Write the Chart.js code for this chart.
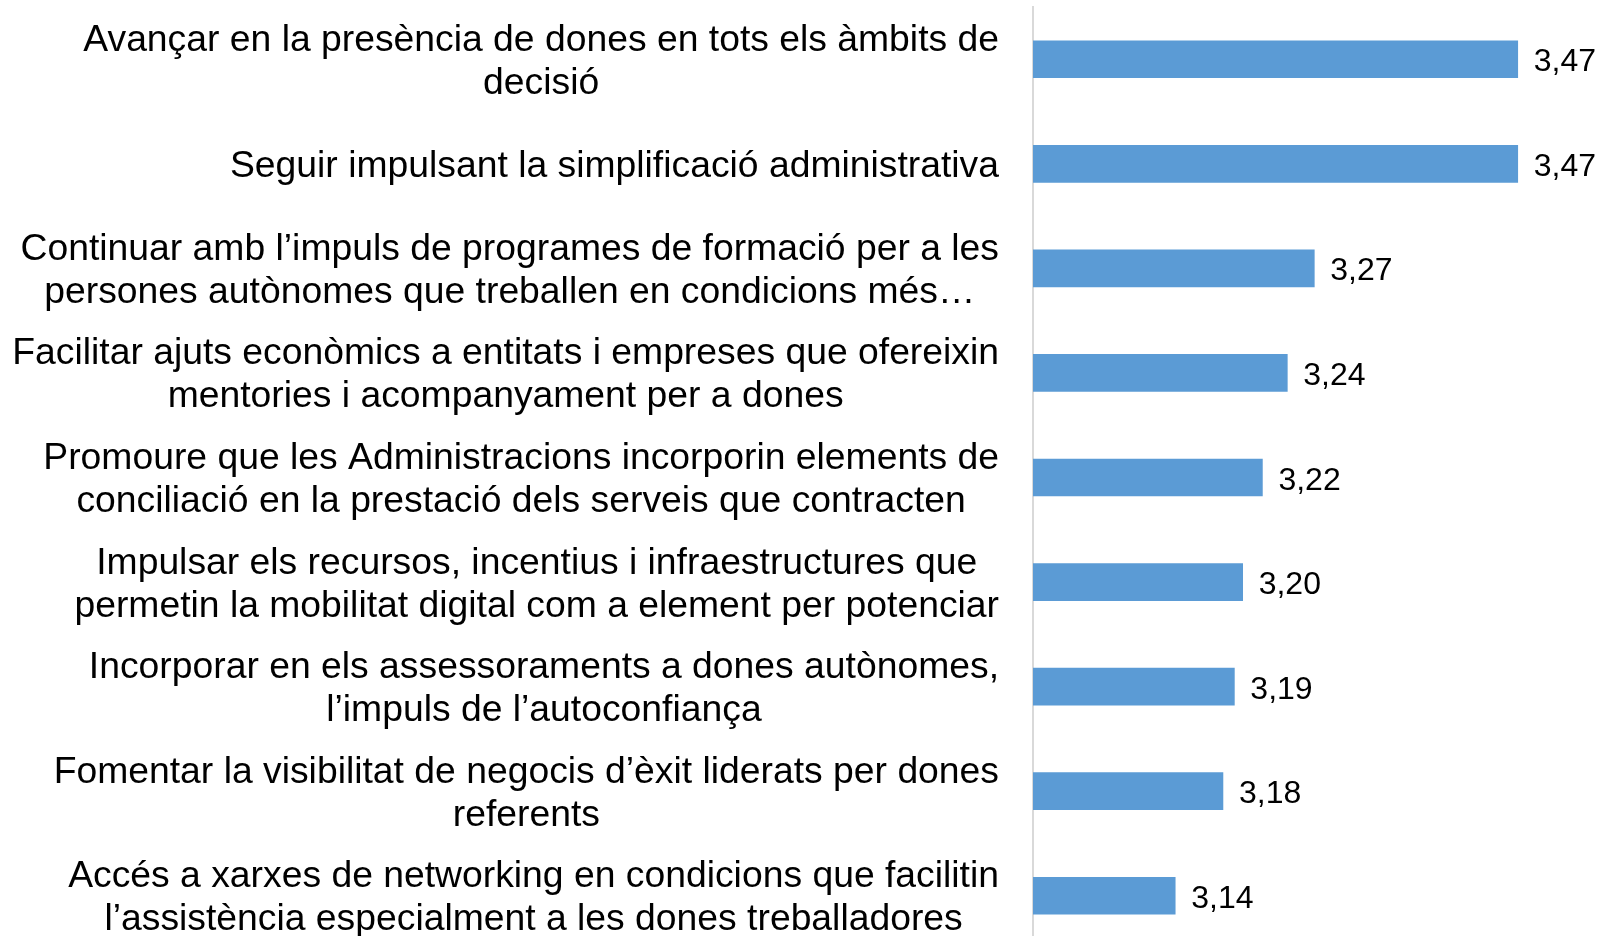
<!DOCTYPE html>
<html>
<head>
<meta charset="utf-8">
<script src="https://cdn.jsdelivr.net/npm/chart.js@4"></script>
<style>
  html, body { margin: 0; padding: 0; background: #fff; overflow: hidden; }
  #wrap { width: 1599px; height: 950px; }
</style>
</head>
<body>
<div id="wrap"><canvas id="chart-1" width="1599" height="950"></canvas></div>
<script>
const categories = [
  ['Avançar en la presència de dones en tots els àmbits de', 'decisió'],
  ['Seguir impulsant la simplificació administrativa'],
  ['Continuar amb l\u2019impuls de programes de formació per a les', 'persones autònomes que treballen en condicions més\u2026'],
  ['Facilitar ajuts econòmics a entitats i empreses que ofereixin', 'mentories i acompanyament per a dones'],
  ['Promoure que les Administracions incorporin elements de', 'conciliació en la prestació dels serveis que contracten'],
  ['Impulsar els recursos, incentius i infraestructures que', 'permetin la mobilitat digital com a element per potenciar'],
  ['Incorporar en els assessoraments a dones autònomes,', 'l\u2019impuls de l\u2019autoconfiança'],
  ['Fomentar la visibilitat de negocis d\u2019èxit liderats per dones', 'referents'],
  ['Accés a xarxes de networking en condicions que facilitin', 'l\u2019assistència especialment a les dones treballadores']
];
// mitjanes llegides de la llargada de les barres
const valors = [3.47, 3.47, 3.274, 3.248, 3.224, 3.205, 3.197, 3.186, 3.14];
// valors tal com estan escrits al costat de cada barra
const valorsText = ['3,47', '3,47', '3,27', '3,24', '3,22', '3,20', '3,19', '3,18', '3,14'];
const xMin = 3.003;
const xMax = 3.503;

const FONT_ETIQ = '37.3px "Liberation Sans", Arial, sans-serif';
const FONT_VALOR = '32px "Liberation Sans", Arial, sans-serif';

// etiquetes de categoria: cada bloc centrat sobre la seva linia mes llarga
const etiquetesPlugin = {
  id: 'etiquetes',
  afterDraw(chart) {
    const ctx = chart.ctx;
    const y = chart.scales.y;
    const dreta = 999;
    const lineH = 43;
    ctx.save();
    ctx.font = FONT_ETIQ;
    ctx.fillStyle = '#000';
    ctx.textAlign = 'center';
    ctx.textBaseline = 'alphabetic';
    categories.forEach((lines, i) => {
      const yc = y.getPixelForValue(i);
      const w = Math.max(...lines.map(l => ctx.measureText(l).width));
      const cx = dreta - w / 2;
      lines.forEach((l, j) => {
        ctx.fillText(l, cx, yc + (j - (lines.length - 1) / 2) * lineH + 13);
      });
    });
    ctx.restore();
  }
};

// valors al final de cada barra
const valorsPlugin = {
  id: 'valors',
  afterDatasetsDraw(chart) {
    const ctx = chart.ctx;
    const meta = chart.getDatasetMeta(0);
    ctx.save();
    ctx.font = FONT_VALOR;
    ctx.fillStyle = '#000';
    ctx.textAlign = 'left';
    ctx.textBaseline = 'alphabetic';
    meta.data.forEach((bar, i) => {
      ctx.fillText(valorsText[i], bar.x + 16, bar.y + 12);
    });
    ctx.restore();
  }
};

const ctx1 = document.getElementById('chart-1').getContext('2d');
new Chart(ctx1, {
  type: 'bar',
  data: {
    labels: categories,
    datasets: [{
      data: valors,
      backgroundColor: '#5b9bd5',
      borderWidth: 0,
      barThickness: 37
    }]
  },
  options: {
    indexAxis: 'y',
    responsive: false,
    animation: false,
    layout: { padding: { top: 7, bottom: 2, left: 0, right: 47 } },
    plugins: {
      legend: { display: false },
      tooltip: { enabled: false }
    },
    scales: {
      x: {
        display: false,
        min: xMin,
        max: xMax
      },
      y: {
        grid: { display: false },
        border: { display: true, color: '#d9d9d9', width: 2 },
        ticks: { display: false },
        afterFit: s => { s.width = 1033; }
      }
    }
  },
  plugins: [etiquetesPlugin, valorsPlugin]
});
</script>
</body>
</html>
